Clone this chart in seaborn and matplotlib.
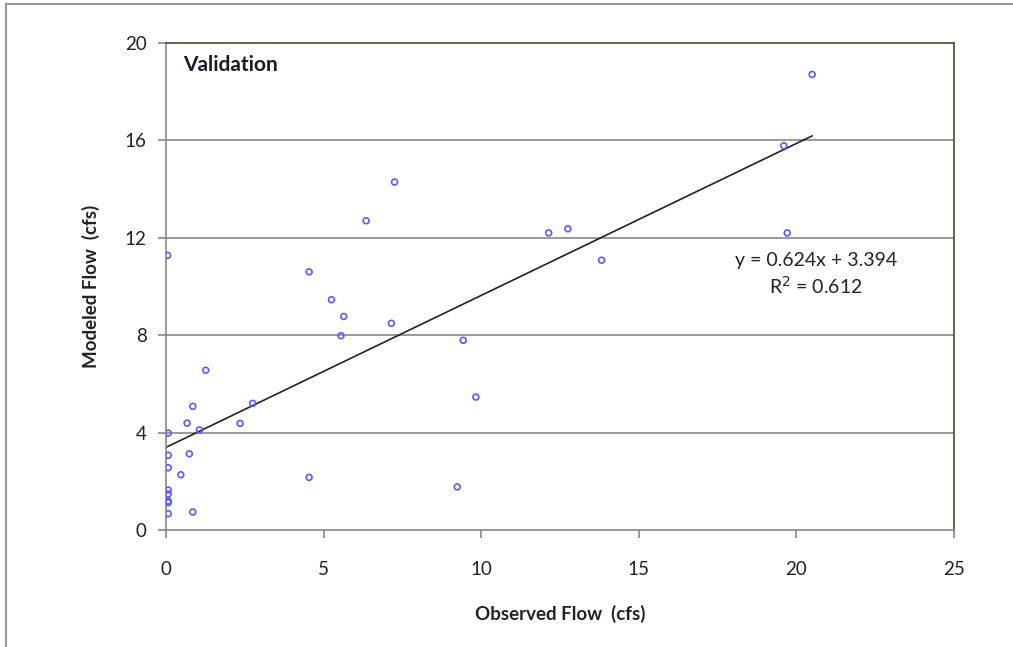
import matplotlib
matplotlib.use("Agg")
import matplotlib.pyplot as plt
import seaborn as sns
import numpy as np
import pandas as pd
from matplotlib.lines import Line2D

# Data
observed = [1.26, 0.85, 0.67, 1.06, 2.35, 2.75, 0.07, 0.07, 0.74, 0.07,
            0.47, 0.07, 0.07, 0.07, 0.07, 0.07, 0.85, 0.05,
            7.25, 6.35, 4.54, 5.25, 5.64, 7.15, 5.55, 9.43, 9.83, 4.54, 9.24,
            20.5, 19.6, 12.14, 12.75, 19.71, 13.82]
modeled = [6.56, 5.08, 4.39, 4.11, 4.38, 5.20, 3.98, 3.07, 3.13, 2.56,
           2.27, 1.64, 1.48, 1.19, 1.12, 0.67, 0.74, 11.28,
           14.29, 12.70, 10.60, 9.46, 8.77, 8.49, 7.98, 7.79, 5.46, 2.16, 1.77,
           18.71, 15.78, 12.20, 12.37, 12.20, 11.08]
slope = 0.624
intercept = 3.394
r_squared = 0.612
x_ticks = [0, 5, 10, 15, 20, 25]
y_ticks = [0, 4, 8, 12, 16, 20]

df = pd.DataFrame({"Observed": observed, "Modeled": modeled})

sns.set_theme(style="white")
plt.rcParams['font.family'] = ['Lato', 'DejaVu Sans']

fig = plt.figure(figsize=(10.13, 6.47), dpi=100)
ax = fig.add_axes([166/1013, 1-530/647, (954-166)/1013, (530-43)/647])

for yt in y_ticks[1:-1]:
    ax.axhline(yt, color="#888888", lw=1.2, zorder=0)

sns.scatterplot(data=df, x="Observed", y="Modeled", ax=ax, marker="o",
                s=18, facecolors="none", edgecolor="#5a5aFF", linewidth=1.2,
                zorder=3)

xl = np.array([min(observed), max(observed)])
xl[0] = 0
ax.plot(xl, slope * xl + intercept, color="#222222", lw=1.2, zorder=2)

ax.set_xlim(0, 25)
ax.set_ylim(0, 20)
ax.set_xticks(x_ticks)
ax.set_yticks(y_ticks)
ax.tick_params(axis="both", direction="out", length=6, width=1.2,
               color="#888888", labelsize=13.5, pad=8, labelcolor="#222222")
ax.tick_params(axis="x", pad=16)
ax.tick_params(axis="y", pad=8)
ax.tick_params(bottom=True, left=True)

for side in ["left", "bottom"]:
    ax.spines[side].set_color("#888888")
    ax.spines[side].set_linewidth(1.2)
for side in ["top", "right"]:
    ax.spines[side].set_color("#4a4a30")
    ax.spines[side].set_linewidth(1.2)

ax.set_xlabel("Observed Flow  (cfs)", fontsize=13.5, fontweight="bold",
              color="#222222", labelpad=20)
ax.set_ylabel("Modeled Flow  (cfs)", fontsize=13.5, fontweight="bold",
              color="#222222", labelpad=18)

ax.text(0.022, 0.975, "Validation", transform=ax.transAxes, fontsize=15,
        fontweight="bold", color="#1a1a2e", va="top", ha="left")

ax.text(0.825, 0.525, f"y = {slope:.3f}x + {intercept:.3f}\nR$^2$ = {r_squared:.3f}",
        transform=ax.transAxes, fontsize=14, color="#222222",
        ha="center", va="center", linespacing=1.3)

# figure border (left and top edges visible)
fig.add_artist(Line2D([6/1013, 6/1013], [0, 1-4/647], transform=fig.transFigure,
                      color="#999999", lw=1.5))
fig.add_artist(Line2D([6/1013, 1], [1-4/647, 1-4/647], transform=fig.transFigure,
                      color="#999999", lw=1.5))

fig.savefig("out.png", dpi=100)
